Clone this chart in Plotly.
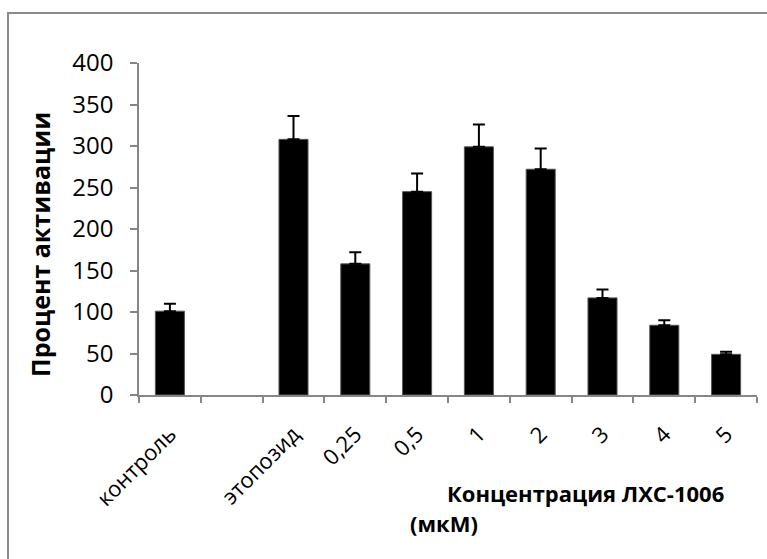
import plotly.graph_objects as go

categories = ["контроль", " ", "этопозид", "0,25", "0,5", "1", "2", "3", "4", "5"]
values = [101, None, 308, 158, 245, 299, 272, 117, 84, 49]
err_plus = [9, None, 28, 14, 22, 27, 25, 10, 6, 3]

y_ticks = [0, 50, 100, 150, 200, 250, 300, 350, 400]

axis_col = "#868686"
font_fam = "Open Sans, Liberation Sans, sans-serif"

fig = go.Figure()
fig.add_trace(go.Bar(
    x=categories, y=values,
    marker=dict(color="black", line=dict(color="#555555", width=1)),
    width=0.47,
    error_y=dict(type="data", symmetric=False, array=err_plus,
                 arrayminus=[0] * len(err_plus),
                 color="black", thickness=2, width=6),
))

L, R, T, B = 139, 10, 63, 164
W, H = 767, 559
pw, ph = W - L - R, H - T - B

def px(x):
    return (x - L) / pw

def py(y):
    return (H - B - y) / ph

fig.update_layout(
    width=W, height=H,
    margin=dict(l=L, r=R, t=T, b=B),
    plot_bgcolor="white", paper_bgcolor="white",
    showlegend=False,
    font=dict(family=font_fam, color="black", size=20),
    xaxis=dict(
        type="category", categoryorder="array", categoryarray=categories,
        range=[-0.5, 9.5],
        showline=True, linecolor=axis_col, linewidth=1.5,
        ticks="outside", ticklen=6, tickcolor=axis_col, tickwidth=1.5,
        tickson="boundaries",
        tickangle=-45, tickfont=dict(size=22),
        ticklabelstandoff=16,
        showgrid=False, zeroline=False,
    ),
    yaxis=dict(
        range=[0, 400], tickvals=y_ticks,
        ticktext=[str(v) for v in y_ticks],
        showline=True, linecolor=axis_col, linewidth=1.5,
        ticks="outside", ticklen=7, tickcolor=axis_col, tickwidth=1.5,
        tickfont=dict(size=24),
        ticklabelstandoff=12,
        showgrid=False, zeroline=False,
    ),
    shapes=[dict(type="rect", xref="paper", yref="paper",
                 x0=px(8), x1=px(780), y0=py(570), y1=py(13),
                 line=dict(color="#8a8a8a", width=2), fillcolor="rgba(0,0,0,0)",
                 layer="below")],
    annotations=[
        dict(text="<b>Процент активации</b>", xref="paper", yref="paper",
             x=px(40), y=py(244), textangle=-90, showarrow=False,
             font=dict(size=25), xanchor="center", yanchor="middle"),
        dict(text="<b>Концентрация ЛХС-1006</b>", xref="paper", yref="paper",
             x=px(445), y=py(493), showarrow=False, font=dict(size=22),
             xanchor="left", yanchor="middle"),
        dict(text="<b>(мкМ)</b>", xref="paper", yref="paper",
             x=px(408), y=py(523), showarrow=False, font=dict(size=22),
             xanchor="left", yanchor="middle"),
    ],
)

fig.write_html("out.html")
